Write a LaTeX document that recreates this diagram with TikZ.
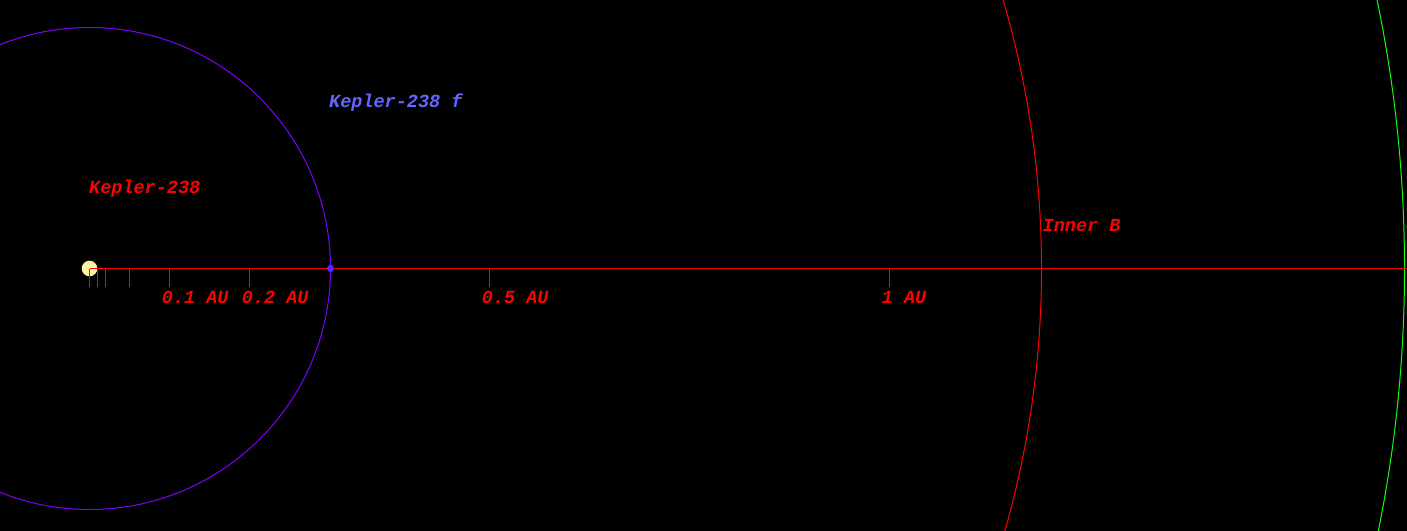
\documentclass[tikz,border=0pt]{standalone}
\usepackage{fontspec}
\newfontfamily\labelfont{Liberation Mono}
\definecolor{orbitf}{HTML}{8000FF}
\definecolor{planetf}{HTML}{4A2CFF}
\definecolor{labf}{HTML}{6464FF}
\definecolor{starcol}{HTML}{FFF3A8}
\definecolor{axred}{HTML}{FF0000}
\definecolor{grn}{HTML}{10FF10}
\begin{document}
\begin{tikzpicture}[x=1bp,y=-1bp,
  lab/.style={anchor=base west,inner sep=0pt,font=\labelfont\bfseries\itshape\fontsize{18.5bp}{20bp}\selectfont},
  tick/.style={draw=axred,line width=1bp},
  orbit/.style={line width=1bp}]
\fill[black] (0,0) rectangle (1407,531);
\useasboundingbox (0,0) rectangle (1407,531);
\coordinate (star) at (89.5,268.5);
% orbits
\draw[orbit,draw=orbitf] (star) circle[radius=241];
\draw[orbit,draw=red] (star) circle[radius=952];
\draw[orbit,draw=grn] (star) circle[radius=1315];
% star
\fill[starcol] (star) circle[radius=7.8];
% axis
\coordinate (axend) at (1407,268.5);
\draw[tick] (star) -- (axend);
\foreach \x/\n in {89.5/t0,97.5/t1,105.5/t2,129.5/t3,169.5/t4,249.5/t5,489.5/t6,889.5/t7}{
  \coordinate (\n) at (\x,268.5);
  \draw[tick] (\n) -- ++(0,18);
}
% planet
\fill[planetf] (330.5,268.5) circle[radius=3.6] coordinate (pf);
% labels
\node[lab,text=red] (lstar) at (89,193.5) {Kepler-238};
\node[lab,text=labf] (lf) at (329,107.5) {Kepler-238 f};
\node[lab,text=red] (linner) at (1042.5,231.5) {Inner B};
\node[lab,text=grn] (louter) at (1406,231.5) {Outer B};
\node[lab,text=red] (a1) at (161.7,303.5) {0.1 AU};
\node[lab,text=red] (a2) at (241.7,303.5) {0.2 AU};
\node[lab,text=red] (a5) at (481.7,303.5) {0.5 AU};
\node[lab,text=red] (a10) at (881.7,303.5) {1 AU};
\end{tikzpicture}
\end{document}
